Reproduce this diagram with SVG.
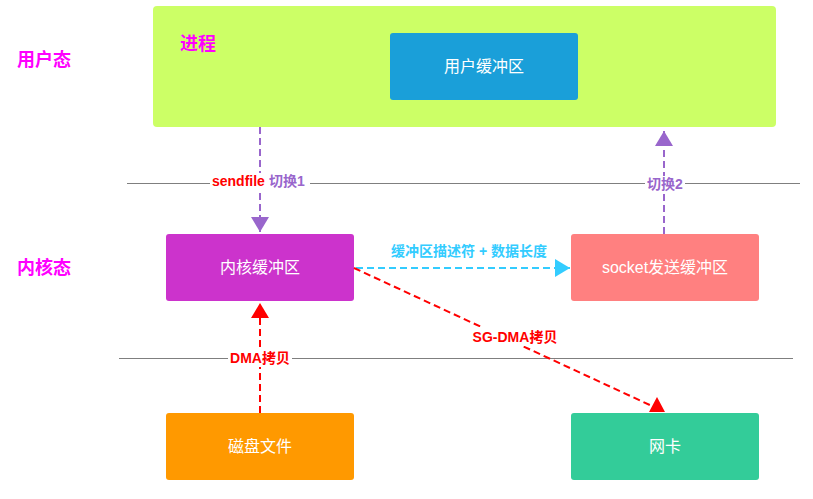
<svg xmlns="http://www.w3.org/2000/svg" width="813" height="499" viewBox="0 0 813 499">
<style>
text{font-family:"Liberation Sans","Noto Sans CJK SC",sans-serif}
.zone{font-size:18px;font-weight:bold;fill:#FF00FF}
.nt{font-size:16px;fill:#fff;text-anchor:middle}
.lbl{font-size:14px;font-weight:bold;text-anchor:middle}
.sep{stroke:#7F7F7F;stroke-width:1}
.dash{fill:none;stroke-width:2;stroke-dasharray:7,4}
.bg{fill:#fff}
</style>
<defs>
<marker id="ap" viewBox="0 0 15 18" refX="15" refY="9" markerWidth="15" markerHeight="18" markerUnits="userSpaceOnUse" orient="auto"><path d="M0,0 L15,9 L0,18 z" fill="#9966CC"/></marker>
<marker id="ar" viewBox="0 0 15 18" refX="15" refY="9" markerWidth="15" markerHeight="18" markerUnits="userSpaceOnUse" orient="auto"><path d="M0,0 L15,9 L0,18 z" fill="#FF0000"/></marker>
<marker id="ac" viewBox="0 0 15 18" refX="15" refY="9" markerWidth="15" markerHeight="18" markerUnits="userSpaceOnUse" orient="auto"><path d="M0,0 L15,9 L0,18 z" fill="#33CCFF"/></marker>
</defs>

<text class="zone" x="17" y="66">用户态</text>
<text class="zone" x="17" y="274">内核态</text>
<line class="sep" x1="127" y1="183.5" x2="800" y2="183.5"/>
<line class="sep" x1="119" y1="358.5" x2="793" y2="358.5"/>

<g id="process">
<rect x="153" y="6" width="623" height="121" rx="4" fill="#CCFF66"/>
<text class="zone" x="180" y="50">进程</text>
</g>
<g id="user-buffer">
<rect x="390" y="33" width="188" height="67" rx="3" fill="#1A9FD9"/>
<text class="nt" x="484" y="72">用户缓冲区</text>
</g>
<g id="kernel-buffer">
<rect x="166" y="234" width="188" height="67" rx="3" fill="#CC33CC"/>
<text class="nt" x="260" y="273">内核缓冲区</text>
</g>
<g id="socket-buffer">
<rect x="571" y="234" width="188" height="67" rx="3" fill="#FF8080"/>
<text class="nt" x="665" y="273">socket发送缓冲区</text>
</g>
<g id="disk">
<rect x="166" y="413" width="188" height="67" rx="3" fill="#FF9900"/>
<text class="nt" x="260" y="452">磁盘文件</text>
</g>
<g id="nic">
<rect x="571" y="413" width="188" height="67" rx="3" fill="#33CC99"/>
<text class="nt" x="665" y="452">网卡</text>
</g>

<g id="connectors">
<line class="dash" x1="260" y1="127" x2="260" y2="232" stroke="#9966CC" marker-end="url(#ap)"/>
<rect class="bg" x="210" y="173" width="100" height="18"/>
<text class="lbl" x="212" y="186" style="text-anchor:start"><tspan fill="#FF0000">sendfile</tspan><tspan fill="#9966CC" dx="4">切换1</tspan></text>

<line class="dash" x1="664" y1="234" x2="664" y2="131" stroke="#9966CC" marker-end="url(#ap)"/>
<rect class="bg" x="645" y="176" width="40" height="17"/>
<text class="lbl" x="665" y="189" fill="#9966CC">切换2</text>

<line class="dash" x1="356" y1="268" x2="570" y2="268" stroke="#33CCFF" marker-end="url(#ac)"/>
<text class="lbl" x="469" y="256" fill="#33CCFF">缓冲区描述符 + 数据长度</text>

<line class="dash" x1="260" y1="413" x2="260" y2="303" stroke="#FF0000" marker-end="url(#ar)"/>
<rect class="bg" x="228" y="349" width="64" height="18"/>
<text class="lbl" x="260" y="363" fill="#FF0000">DMA拷贝</text>

<line class="dash" x1="354" y1="268" x2="652" y2="406" stroke="#FF0000"/>
<path d="M649,412 L657,397 L665,412 z" fill="#FF0000"/>
<rect class="bg" x="470" y="327" width="92" height="19"/>
<text class="lbl" x="515" y="342" fill="#FF0000">SG-DMA拷贝</text>
</g>
</svg>
